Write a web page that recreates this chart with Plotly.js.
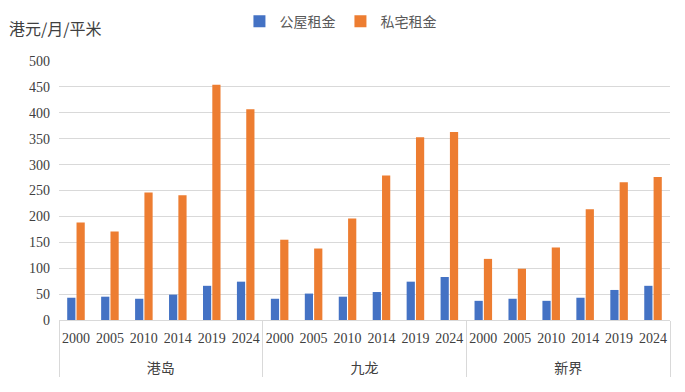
<!DOCTYPE html>
<html><head><meta charset="utf-8">
<script src="https://cdn.plot.ly/plotly-3.0.1.min.js"></script>
<style>html,body{margin:0;padding:0;background:#fff}</style>
</head><body><div id="chart" style="width:685px;height:392px"></div>
<script>
const regions = ['港岛', '九龙', '新界'];
const years = ['2000', '2005', '2010', '2014', '2019', '2024'];
const publicRent = [
  [43, 45, 41, 49, 66, 74],
  [41, 51, 45, 54, 74, 83],
  [37, 41, 37, 43, 58, 66]
];
const privateRent = [
  [188, 171, 246, 241, 454, 407],
  [155, 138, 196, 279, 353, 363],
  [118, 99, 140, 214, 266, 276]
];
const seriesNames = ['公屋租金', '私宅租金'];
const yTitle = '港元/月/平米';

const xr = [], xy = [], v1 = [], v2 = [];
regions.forEach((r, i) => years.forEach((y, j) => {
  xr.push('<br>' + r); xy.push(y); v1.push(publicRent[i][j]); v2.push(privateRent[i][j]);
}));

const font = 'Liberation Serif, Noto Sans CJK SC, serif';
const data = [
  {type: 'bar', name: seriesNames[0], x: [xr, xy], y: v1, marker: {color: '#4472C4'}},
  {type: 'bar', name: seriesNames[1], x: [xr, xy], y: v2, marker: {color: '#ED7D31'}}
];
const layout = {
  width: 685, height: 392,
  margin: {l: 59, r: 15, t: 61, b: 72},
  paper_bgcolor: '#fff', plot_bgcolor: '#fff',
  font: {family: font, color: '#595959', size: 14},
  barmode: 'group', bargap: 0.45, bargroupgap: 0.12,
  showlegend: true,
  legend: {orientation: 'h', xref: 'container', yref: 'container', x: 0.497, xanchor: 'center', y: 0.945, yanchor: 'middle',
           font: {family: 'Noto Sans CJK SC', size: 14, color: '#595959'}, itemwidth: 30, tracegroupgap: 0},
  xaxis: {type: 'multicategory', showgrid: false, showline: true, linecolor: '#d9d9d9', linewidth: 1,
          ticks: '', showdividers: true, dividercolor: '#d9d9d9', dividerwidth: 1, tickangle: 0,
          automargin: false, ticklabelstandoff: 5,
          tickfont: {family: font, size: 14, color: '#404040'}},
  yaxis: {range: [0, 500], dtick: 50, tick0: 0, showgrid: true, gridcolor: '#d9d9d9', gridwidth: 1,
          zeroline: false, showline: false, ticks: '', ticklabelstandoff: 8, automargin: false,
          tickfont: {family: font, size: 14, color: '#404040'}},
  annotations: [{text: yTitle, xref: 'paper', yref: 'paper', x: -0.085, y: 1.127, xanchor: 'left', yanchor: 'middle',
                 showarrow: false, font: {family: 'Noto Sans CJK SC', size: 16, color: '#404040'}}]
};
Plotly.newPlot('chart', data, layout, {displayModeBar: false, responsive: false});
</script></body></html>
